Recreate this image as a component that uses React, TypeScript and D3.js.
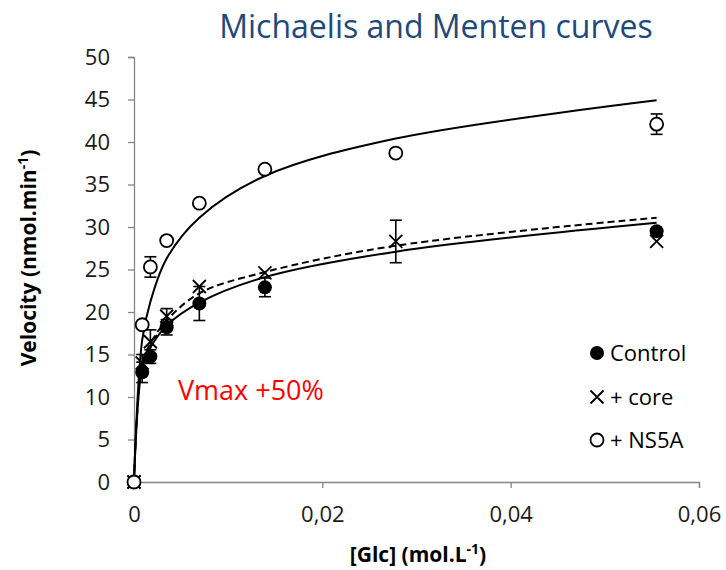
import React, { useEffect, useRef } from "react";
import * as d3 from "d3";

// glucose concentrations (mol/L)
const conc = [0, 0.00087, 0.00174, 0.00347, 0.00694, 0.0139, 0.0278, 0.0555];

// measured velocities (nmol/min), null = no point
const controlVals = [0, 12.9, 14.75, 18.2, 21.0, 22.9, null, 29.5];
const controlErr = [0, 1.2, 0.8, 0.9, 2.0, 1.1, 0, 0];
const coreVals = [0, 14.0, 16.5, 19.5, 23.0, 24.6, 28.3, 28.3];
const coreErr = [0, 1.0, 1.4, 0.9, 0, 0, 2.5, 0];
const ns5aVals = [0, 18.5, 25.3, 28.4, 32.8, 36.8, 38.7, 42.1];
const ns5aErr = [0, 0, 1.2, 0, 0, 0, 0, 1.2];

// fitted curves
const controlFit = [0, 13.5, 15.8, 18.4, 21.1, 24.1, 27.1, 30.5];
const coreFit = [0, 13.9, 16.3, 19.0, 22.2, 24.7, 27.8, 31.1];
const ns5aFit = [0, 16.7, 21.2, 26.3, 31.1, 36.0, 40.4, 44.9];

const xTicks = [0, 0.02, 0.04, 0.06];
const yTicks = [0, 5, 10, 15, 20, 25, 30, 35, 40, 45, 50];

const legendItems = ["Control", "+ core", "+ NS5A"];

const W = 726;
const H = 570;
const FONT = "'Open Sans', sans-serif";

const App = () => {
  const ref = useRef<SVGSVGElement>(null);

  useEffect(() => {
    const svg = d3.select(ref.current);
    svg.selectAll("*").remove();

    const x = d3.scaleLinear().domain([0, 0.06]).range([134, 699]);
    const y = d3.scaleLinear().domain([0, 50]).range([482, 57]);
    const loc = d3.formatLocale({ decimal: ",", thousands: " ", grouping: [3], currency: ["", ""] });
    const fmt = (d: number) => (d === 0 ? "0" : loc.format(".2f")(d));

    // title
    svg.append("text")
      .attr("x", 436).attr("y", 38)
      .attr("text-anchor", "middle")
      .attr("font-family", FONT).attr("font-size", 32)
      .attr("fill", "#1F497D")
      .text("Michaelis and Menten curves");

    // axes
    const yAxis = svg.append("g")
      .attr("transform", `translate(${x(0)},0)`)
      .call(d3.axisLeft(y).tickValues(yTicks).tickSize(6).tickPadding(18).tickFormat(d3.format("d")));
    const xAxis = svg.append("g")
      .attr("transform", `translate(0,${y(0)})`)
      .call(d3.axisBottom(x).tickValues(xTicks).tickSize(6).tickPadding(18).tickFormat((d) => fmt(+d)));
    [xAxis, yAxis].forEach((a) => {
      a.select(".domain").attr("stroke", "#868686").attr("stroke-width", 1.3);
      a.selectAll(".tick line").attr("stroke", "#868686").attr("stroke-width", 1.3);
      a.selectAll(".tick text")
        .attr("font-family", FONT).attr("font-size", 22).attr("fill", "#1a1a1a");
    });
    xAxis.selectAll(".tick").filter((d) => d === 0).select("line").remove();

    // axis titles
    const xt = svg.append("text")
      .attr("x", 418).attr("y", 562)
      .attr("text-anchor", "middle")
      .attr("font-family", FONT).attr("font-size", 21).attr("font-weight", "bold");
    xt.append("tspan").text("[Glc] (mol.L");
    xt.append("tspan").attr("dy", -8).attr("font-size", 14).text("-1");
    xt.append("tspan").attr("dy", 8).text(")");

    const yt = svg.append("text")
      .attr("transform", `translate(36,${258}) rotate(-90)`)
      .attr("text-anchor", "middle")
      .attr("font-family", FONT).attr("font-size", 21).attr("font-weight", "bold");
    yt.append("tspan").text("Velocity (nmol.min");
    yt.append("tspan").attr("dy", -8).attr("font-size", 14).text("-1");
    yt.append("tspan").attr("dy", 8).text(")");

    // fitted curves
    const line = d3.line<number>()
      .x((_, i) => x(conc[i]))
      .y((d) => y(d))
      .curve(d3.curveCatmullRom.alpha(0.5));
    svg.append("path").datum(controlFit).attr("d", line)
      .attr("fill", "none").attr("stroke", "#000").attr("stroke-width", 2);
    svg.append("path").datum(coreFit).attr("d", line)
      .attr("fill", "none").attr("stroke", "#000").attr("stroke-width", 2)
      .attr("stroke-dasharray", "7,4");
    svg.append("path").datum(ns5aFit).attr("d", line)
      .attr("fill", "none").attr("stroke", "#000").attr("stroke-width", 2);

    // error bars
    const errBars = (vals: (number | null)[], errs: number[]) => {
      const g = svg.append("g").attr("stroke", "#000").attr("stroke-width", 1.6);
      vals.forEach((v, i) => {
        if (v === null || !errs[i]) return;
        const cx = x(conc[i]);
        const y1 = y(v - errs[i]);
        const y2 = y(v + errs[i]);
        g.append("line").attr("x1", cx).attr("x2", cx).attr("y1", y1).attr("y2", y2);
        g.append("line").attr("x1", cx - 6).attr("x2", cx + 6).attr("y1", y1).attr("y2", y1);
        g.append("line").attr("x1", cx - 6).attr("x2", cx + 6).attr("y1", y2).attr("y2", y2);
      });
    };
    errBars(controlVals, controlErr);
    errBars(coreVals, coreErr);
    errBars(ns5aVals, ns5aErr);

    // markers
    const drawDot = (g: any, cx: number, cy: number) =>
      g.append("circle").attr("cx", cx).attr("cy", cy).attr("r", 7).attr("fill", "#000");
    const drawCross = (g: any, cx: number, cy: number) => {
      const s = 6.5;
      g.append("path")
        .attr("d", `M${cx - s},${cy - s}L${cx + s},${cy + s}M${cx - s},${cy + s}L${cx + s},${cy - s}`)
        .attr("stroke", "#000").attr("stroke-width", 1.8).attr("fill", "none");
    };
    const drawRing = (g: any, cx: number, cy: number) =>
      g.append("circle").attr("cx", cx).attr("cy", cy).attr("r", 6.5)
        .attr("fill", "#fff").attr("stroke", "#000").attr("stroke-width", 1.8);

    const pts = svg.append("g");
    controlVals.forEach((v, i) => { if (v !== null) drawDot(pts, x(conc[i]), y(v)); });
    coreVals.forEach((v, i) => { if (v !== null) drawCross(pts, x(conc[i]), y(v)); });
    ns5aVals.forEach((v, i) => {
      if (v !== null && i > 0) drawRing(pts, x(conc[i]), y(v));
    });
    // the origin point: cross under a ring
    drawCross(pts, x(0), y(0));
    drawRing(pts, x(0), y(0));

    // legend
    const lg = svg.append("g");
    const ly = [353, 397, 440];
    const drawers = [drawDot, drawCross, drawRing];
    legendItems.forEach((t, i) => {
      drawers[i](lg, 597, ly[i]);
      lg.append("text").attr("x", 610).attr("y", ly[i] + 8)
        .attr("font-family", FONT).attr("font-size", 22).attr("fill", "#000")
        .text(t);
    });

    // annotation
    svg.append("text")
      .attr("x", 178).attr("y", 400)
      .attr("font-family", FONT).attr("font-size", 27).attr("fill", "#FF0000")
      .text("Vmax +50%");
  }, []);

  return (
    <svg ref={ref} width={W} height={H}
      style={{ position: "absolute", left: 0, top: 0, background: "#fff" }} />
  );
};

export default App;
